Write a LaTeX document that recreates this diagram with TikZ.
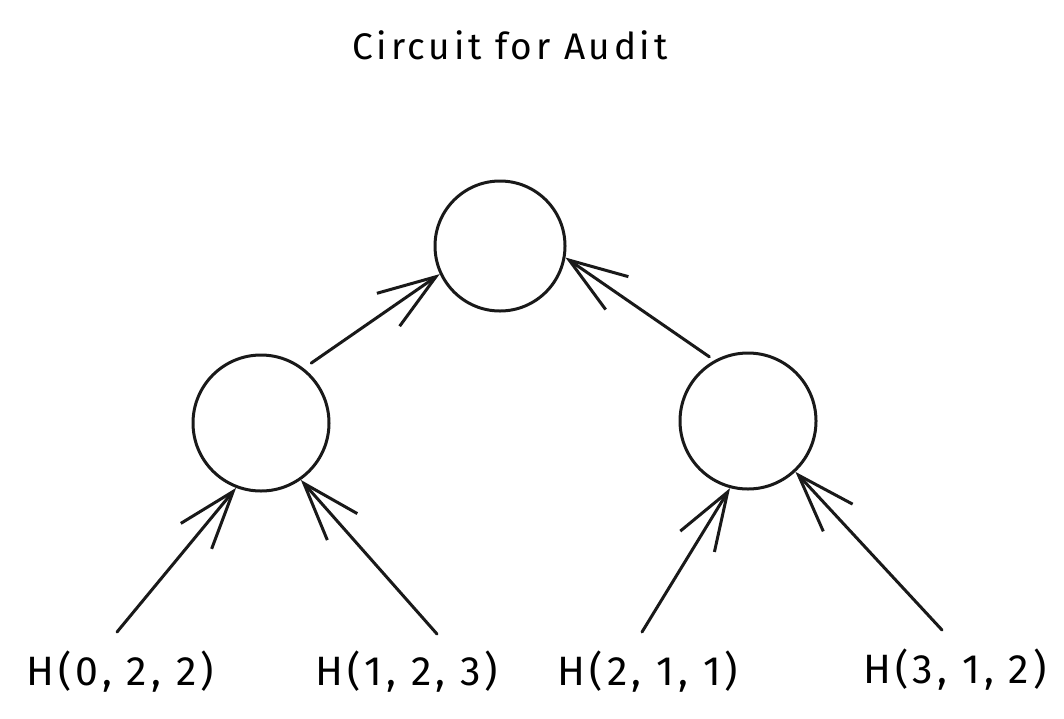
\documentclass[tikz,border=0pt]{standalone}
\usepackage{fontspec}
\setmainfont{Fira Sans}
\usetikzlibrary{arrows.meta}
\tikzset{
  nd/.style={circle, draw=black!90, line width=3pt, minimum size=136pt, inner sep=0pt},
  ndtop/.style={nd, minimum size=130pt},
  lbl/.style={font=\fontsize{41}{46}\selectfont\addfontfeature{LetterSpace=10}, inner sep=0pt},
  ttl/.style={font=\fontsize{37}{42}\selectfont\addfontfeature{LetterSpace=10}, inner sep=0pt},
  arr/.style={draw=black!90, line width=3pt, line cap=round,
    -{Straight Barb[length=58pt, width=40pt, line width=3pt]}}
}
\begin{document}
\begin{tikzpicture}[x=1pt, y=-1pt]
\useasboundingbox (0,0) rectangle (1064,718);
\node[ttl] (title) at (510,45) {Circuit for Audit};
\node[ndtop] (c0) at (500,246) {};
\node[nd] (c1) at (261,423) {};
\node[nd] (c2) at (748,421) {};
\node[lbl] (l1) at (120,672) {H(0, 2, 2)};
\node[lbl] (l2) at (407,672) {H(1, 2, 3)};
\node[lbl] (l3) at (648,672) {H(2, 1, 1)};
\node[lbl] (l4) at (955,670) {H(3, 1, 2)};
\coordinate (s1) at ([shift={(-3,-40)}]l1.center);
\coordinate (s2) at ([shift={(30,-38)}]l2.center);
\coordinate (s3) at ([shift={(-6,-40)}]l3.center);
\coordinate (s4) at ([shift={(-13,-40)}]l4.center);
\draw[arr, shorten <=9pt] (c1.52) -- (c0.205);
\draw[arr, shorten <=6pt] (c2.119) -- (c0.-10);
\draw[arr] (s1) -- (c1.-111);
\draw[arr] (s2) -- (c1.-55);
\draw[arr] (s3) -- (c2.-105);
\draw[arr] (s4) -- (c2.-47);
\end{tikzpicture}
\end{document}
